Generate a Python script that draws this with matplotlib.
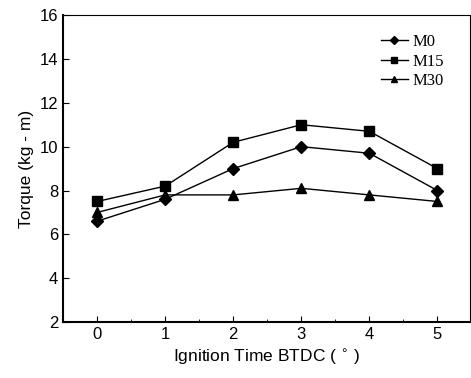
import matplotlib
matplotlib.use("Agg")
import matplotlib.pyplot as plt
from matplotlib.ticker import MultipleLocator, NullLocator

timing = [0, 1, 2, 3, 4, 5]
m0 = [6.6, 7.6, 9.0, 10.0, 9.7, 8.0]
m15 = [7.5, 8.2, 10.2, 11.0, 10.7, 9.0]
m30 = [7.0, 7.8, 7.8, 8.1, 7.8, 7.5]

plt.rcParams['font.family'] = ['Liberation Sans', 'DejaVu Sans']

fig = plt.figure(figsize=(4.71, 3.78), dpi=100)
ax = fig.add_axes([0.134, 0.148, 0.864, 0.812])

ax.plot(timing, m0, color="black", lw=1, marker="D", ms=6, label="M0")
ax.plot(timing, m15, color="black", lw=1, marker="s", ms=6.5, label="M15")
ax.plot(timing, m30, color="black", lw=1, marker="^", ms=7, label="M30")

ax.set_xlim(-0.5, 5.48)
ax.set_ylim(2, 16)
ax.xaxis.set_major_locator(MultipleLocator(1))
ax.xaxis.set_minor_locator(MultipleLocator(0.5))
ax.yaxis.set_major_locator(MultipleLocator(2))
ax.yaxis.set_minor_locator(NullLocator())
ax.tick_params(which="both", direction="in", labelsize=12)
ax.tick_params(which="major", length=4)
ax.tick_params(which="minor", length=2)
for s in ["left", "bottom"]:
    ax.spines[s].set_linewidth(1.5)

ax.set_xlabel("Ignition Time BTDC ( $^{\\circ}$ )", fontsize=12.5)
ax.set_ylabel("Torque (kg - m)", fontsize=12.5)

leg = ax.legend(loc="upper right", frameon=False, handlelength=1.6,
                markerscale=0.7, prop={"family": "Liberation Serif", "size": 12},
                handletextpad=0.3, labelspacing=0.2, borderaxespad=0.9,
                bbox_to_anchor=(0.99, 1.008))

fig.savefig("out.png", dpi=100)
